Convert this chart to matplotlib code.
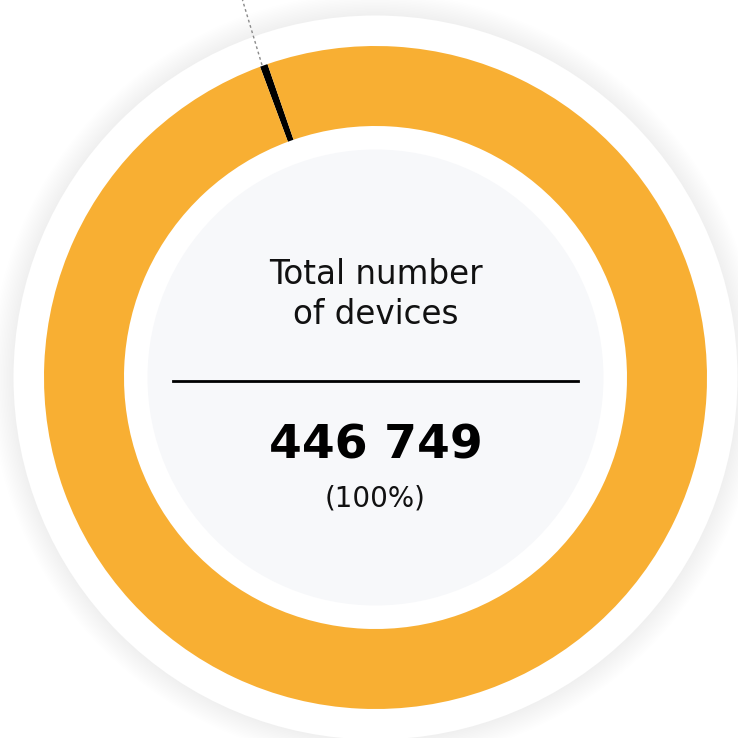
import matplotlib
matplotlib.use("Agg")
import matplotlib.pyplot as plt
from matplotlib.patches import Circle
import numpy as np

# data
labels = ["Marker", "Devices"]
shares = [0.38, 99.62]
colors = ["#000000", "#F8AF33"]
title_lines = ["Total number", "of devices"]
total_text = "446 749"
pct_text = "(100%)"

W = 738
cx, cy = 375.5, W - 377.5

fig = plt.figure(figsize=(7.38, 7.38), dpi=100)
ax = fig.add_axes([0, 0, 1, 1])

# soft shadow around the white disc
for r in np.linspace(385, 362, 16):
    ax.add_patch(Circle((cx, cy), r, facecolor="black", alpha=0.005, lw=0, zorder=0))
ax.add_patch(Circle((cx, cy), 362, facecolor="white", lw=0, zorder=1))

# donut ring
mid_angle = 109.7
ax.pie(shares, colors=colors, radius=331.5, center=(cx, cy),
       startangle=mid_angle - shares[0] * 3.6 / 2, counterclock=True,
       wedgeprops=dict(width=80, linewidth=0), frame=True)
ax.set_xlim(0, W)
ax.set_ylim(0, W)
ax.set_aspect("equal")
ax.axis("off")

# inner grey disc
ax.add_patch(Circle((cx, cy), 228, facecolor="#F7F8FA", lw=0, zorder=3))

# leader line
ax.plot([262, 242.5], [W - 65, W], color="#8a8a8a", lw=1,
        linestyle=(0, (2, 2)), zorder=4)

# centre texts
ax.text(cx, W - 274, title_lines[0], ha="center", va="center", fontsize=23.5,
        color="#111111", zorder=5)
ax.text(cx, W - 314, title_lines[1], ha="center", va="center", fontsize=23.5,
        color="#111111", zorder=5)
ax.plot([173, 578], [W - 381, W - 381], color="black", lw=2, zorder=5)
ax.text(cx, W - 446, total_text, ha="center", va="center", fontsize=34,
        fontweight="bold", color="black", zorder=5)
ax.text(cx, W - 499, pct_text, ha="center", va="center", fontsize=20,
        color="#111111", zorder=5)

fig.savefig("out.png", dpi=100, facecolor="white")
